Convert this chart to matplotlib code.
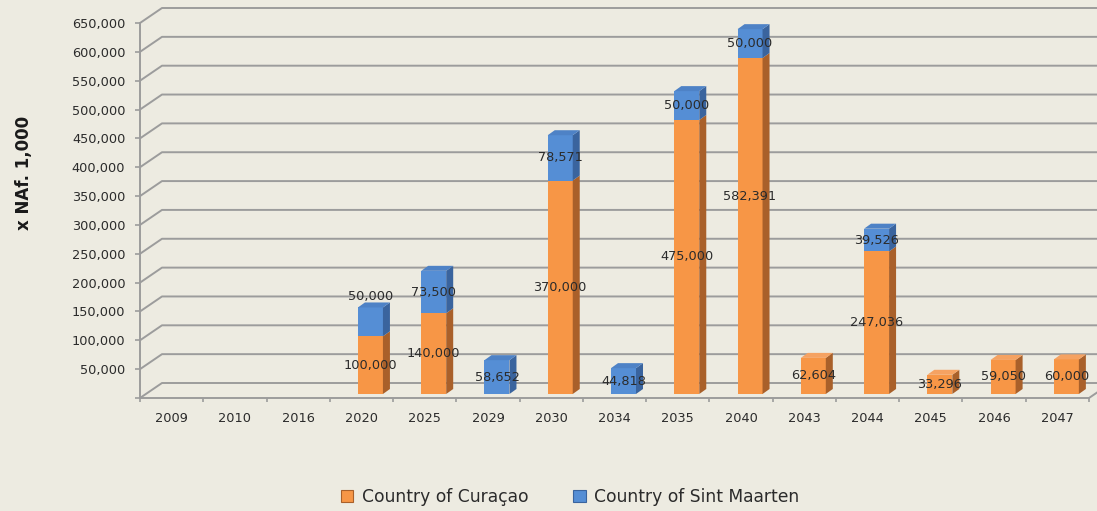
import matplotlib
matplotlib.use("Agg")
import matplotlib.pyplot as plt
from matplotlib.patches import Polygon, Patch
from matplotlib.transforms import ScaledTranslation

categories = ['2009', '2010', '2016', '2020', '2025', '2029', '2030', '2034',
              '2035', '2040', '2043', '2044', '2045', '2046', '2047']
curacao = [0, 0, 0, 100000, 140000, 0, 370000, 0, 475000, 582391,
           62604, 247036, 33296, 59050, 60000]
sint_maarten = [0, 0, 0, 50000, 73500, 58652, 78571, 44818, 50000, 50000,
                0, 39526, 0, 0, 0]
series_names = ['Country of Curaçao', 'Country of Sint Maarten']
y_ticks = list(range(0, 650001, 50000))

# manual label nudges (pixels upward) as in the original chart: (category index, series index)
label_nudge = {(3, 1): 25, (9, 0): 30}

bg = '#EDEBE1'
grid_c = '#9C9C9C'
txt_c = '#2B2B2B'
orange = ('#F79646', '#A9602A', '#F5A262')
blue = ('#558ED5', '#3A649E', '#4E82C6')

W, H = 1097, 511
fig = plt.figure(figsize=(W / 100, H / 100), dpi=100, facecolor=bg)
L, R, B, T = 140, 1089, 398, 23
ax = fig.add_axes([L / W, 1 - B / H, (R - L) / W, (B - T) / H])
ax.set_facecolor('none')
n = len(categories)
ymax = 650000
ax.set_xlim(0, n)
ax.set_ylim(0, ymax)

px_x = n / (R - L)
px_y = ymax / (B - T)

# back wall gridlines with diagonal links to the front axis
dxw, dyw = 22 * px_x, 15 * px_y
for v in y_ticks:
    ax.plot([0, dxw, n + dxw + 2], [v, v + dyw, v + dyw], color=grid_c,
            lw=1.4, clip_on=False, zorder=1, solid_capstyle='butt')
ax.plot([n, n + dxw], [0, dyw], color=grid_c, lw=1.4, clip_on=False, zorder=1)

# bars (pseudo 3D)
trans_bar = ax.transData + ScaledTranslation(9 / 100, 4 / 100, fig.dpi_scale_trans)
bw = 25 * px_x
ddx, ddy = 7 * px_x, 5 * px_y
for i in range(n):
    x = i + 0.5
    l = x - bw / 2
    segs = []
    bottom = 0
    for si, (val, cols) in enumerate(((curacao[i], orange), (sint_maarten[i], blue))):
        if val > 0:
            segs.append((si, bottom, val, cols))
            bottom += val
    for k, (si, b, h, cols) in enumerate(segs):
        t = b + h
        ax.bar(x, h, bw, bottom=b, color=cols[0], edgecolor='none',
               transform=trans_bar, clip_on=False, zorder=3)
        side = Polygon([(l + bw, b), (l + bw + ddx, b + ddy), (l + bw + ddx, t + ddy), (l + bw, t)],
                       closed=True, facecolor=cols[1], edgecolor='none',
                       transform=trans_bar, clip_on=False, zorder=3)
        ax.add_patch(side)
        if k == len(segs) - 1:
            top = Polygon([(l, t), (l + bw, t), (l + bw + ddx, t + ddy), (l + ddx, t + ddy)],
                          closed=True, facecolor=cols[2], edgecolor='none',
                          transform=trans_bar, clip_on=False, zorder=3)
            ax.add_patch(top)
        nudge = label_nudge.get((i, si), 0)
        ax.annotate(f"{h:,}", xy=(x, b + h / 2), xycoords=trans_bar,
                    xytext=(0, nudge * 0.72), textcoords='offset points',
                    ha='center', va='center', fontsize=9.3, color=txt_c, zorder=5,
                    annotation_clip=False)

# axes styling
for s in ['top', 'right']:
    ax.spines[s].set_visible(False)
for s in ['left', 'bottom']:
    ax.spines[s].set_color(grid_c)
    ax.spines[s].set_linewidth(1.4)
    ax.spines[s].set_zorder(2)

ax.set_yticks(y_ticks)
ax.set_yticklabels([''] + [f"{v:,}" for v in y_ticks[1:]])
ax.tick_params(axis='y', length=3.6, width=1.2, color=grid_c, pad=7,
               labelsize=9.3, labelcolor=txt_c)
ax.set_xticks([i + 0.5 for i in range(n)])
ax.set_xticklabels(categories)
ax.set_xticks(range(n + 1), minor=True)
ax.tick_params(axis='x', which='major', length=0, pad=10, labelsize=9.3, labelcolor=txt_c)
ax.tick_params(axis='x', which='minor', length=3, width=1.2, color=grid_c)

fig.text(24 / W, 1 - 173 / H, 'x NAf. 1,000', rotation=90, ha='center', va='center',
         fontsize=12, fontweight='bold', color='#1A1A1A')

handles = [Patch(facecolor=orange[0], edgecolor=orange[1], lw=0.8),
           Patch(facecolor=blue[0], edgecolor=blue[1], lw=0.8)]
fig.legend(handles, series_names, loc='center', bbox_to_anchor=(570 / W, 1 - 497 / H),
           ncol=2, frameon=False, fontsize=12.3, handlelength=0.75, handleheight=0.75,
           handletextpad=0.5, columnspacing=2.6, labelcolor=txt_c)

fig.savefig('out.png', dpi=100, facecolor=bg)
